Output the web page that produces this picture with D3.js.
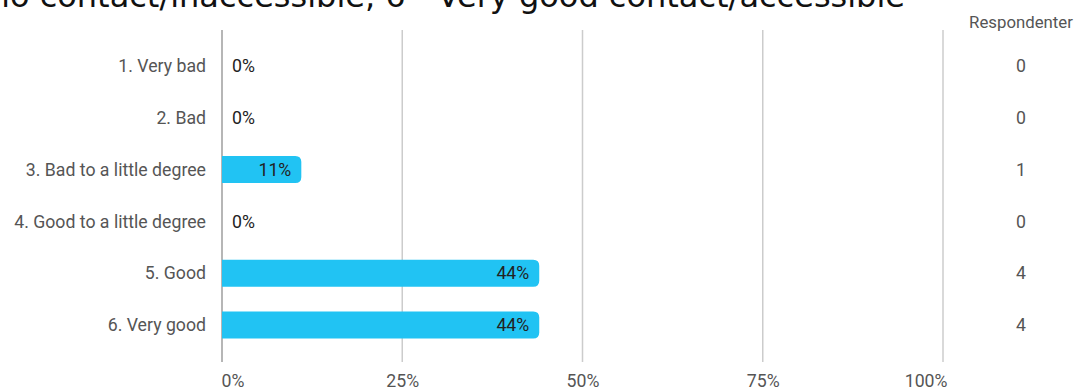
<!DOCTYPE html>
<html>
<head>
<meta charset="utf-8">
<script src="https://cdn.jsdelivr.net/npm/d3@7"></script>
<style>
  html, body { margin: 0; padding: 0; background: #fff; overflow: hidden; }
  svg { display: block; }
</style>
</head>
<body>
<svg id="chart" width="1091" height="390"></svg>
<script>
// Survey answers: share of respondents per rating and respondent counts
const categories = ["1. Very bad", "2. Bad", "3. Bad to a little degree", "4. Good to a little degree", "5. Good", "6. Very good"];
const percentages = [0, 0, 11, 0, 44, 44];
const respondents = [0, 0, 1, 0, 4, 4];
const tickValues = [0, 25, 50, 75, 100];
const titleText = "1 - Very bad/no contact/inaccessible, 6 - Very good contact/accessible";
const countHeader = "Respondenter";

const svg = d3.select("#chart");
const width = 1091, height = 390;
const fontSize = 17.7;

const x = d3.scaleLinear().domain([0, 100]).range([222, 943]);
// Row centres
const y = d3.scalePoint().domain(categories).range([66, 325]);
const bh = 27;

// Title (runs past the top-left edge)
svg.append("text")
  .attr("x", 905).attr("y", 7)
  .attr("text-anchor", "end")
  .attr("font-family", "DejaVu Sans")
  .attr("font-size", 32)
  .attr("fill", "#111")
  .text(titleText);

// Vertical gridlines
const gridTop = 30, gridBottom = 362;
svg.append("g").selectAll("line").data(tickValues).join("line")
  .attr("x1", d => x(d)).attr("x2", d => x(d))
  .attr("y1", gridTop).attr("y2", gridBottom)
  .attr("stroke", d => d === 0 ? "#9e9e9e" : "#cccccc")
  .attr("stroke-width", 1.5);

// Axis tick labels; the outer two are kept inside the plot edges
const axis = d3.axisBottom(x).tickValues(tickValues).tickFormat(d => d + "%").tickSize(0).tickPadding(0);
const axisG = svg.append("g").attr("transform", `translate(0, ${374})`).call(axis);
axisG.select(".domain").remove();
const last = tickValues[tickValues.length - 1];
axisG.selectAll("text")
  .attr("dy", "0.71em")
  .attr("font-family", "Roboto")
  .attr("font-size", fontSize)
  .attr("fill", "#555")
  .attr("text-anchor", d => d === 0 ? "start" : d === last ? "end" : "middle")
  .attr("x", d => d === 0 ? -1 : d === last ? 4 : 0);

// Bars with rounded right end
const r = 6;
function barPath(d) {
  const x0 = x(0), x1 = x(d.p), top = y(d.c) - bh / 2, bot = top + bh;
  const rr = Math.min(r, (x1 - x0));
  return `M${x0},${top} H${x1 - rr} Q${x1},${top} ${x1},${top + rr} V${bot - rr} Q${x1},${bot} ${x1 - rr},${bot} H${x0} Z`;
}
const rows = categories.map((c, i) => ({ c, p: percentages[i], n: respondents[i] }));

svg.append("g").selectAll("path").data(rows.filter(d => d.p > 0)).join("path")
  .attr("d", barPath)
  .attr("fill", "#21c3f3");

// Category labels
svg.append("g").selectAll("text").data(rows).join("text")
  .attr("x", 206)
  .attr("y", d => y(d.c))
  .attr("dy", "0.35em")
  .attr("text-anchor", "end")
  .attr("font-family", "Roboto")
  .attr("font-size", fontSize)
  .attr("fill", "#555")
  .text(d => d.c);

// Value labels
svg.append("g").selectAll("text").data(rows).join("text")
  .attr("x", d => d.p > 0 ? x(d.p) - 10 : x(0) + 10)
  .attr("y", d => y(d.c))
  .attr("dy", "0.35em")
  .attr("text-anchor", d => d.p > 0 ? "end" : "start")
  .attr("font-family", "Roboto")
  .attr("font-size", fontSize)
  .attr("fill", "#222")
  .text(d => d.p + "%");

// Respondent count column
svg.append("text")
  .attr("x", 1021).attr("y", 22)
  .attr("dy", "0.35em")
  .attr("text-anchor", "middle")
  .attr("font-family", "Roboto")
  .attr("font-size", 16.8)
  .attr("fill", "#555")
  .text(countHeader);

svg.append("g").selectAll("text").data(rows).join("text")
  .attr("x", 1021)
  .attr("y", d => y(d.c))
  .attr("dy", "0.35em")
  .attr("text-anchor", "middle")
  .attr("font-family", "Roboto")
  .attr("font-size", fontSize)
  .attr("fill", "#555")
  .text(d => d.n);
</script>
</body>
</html>
